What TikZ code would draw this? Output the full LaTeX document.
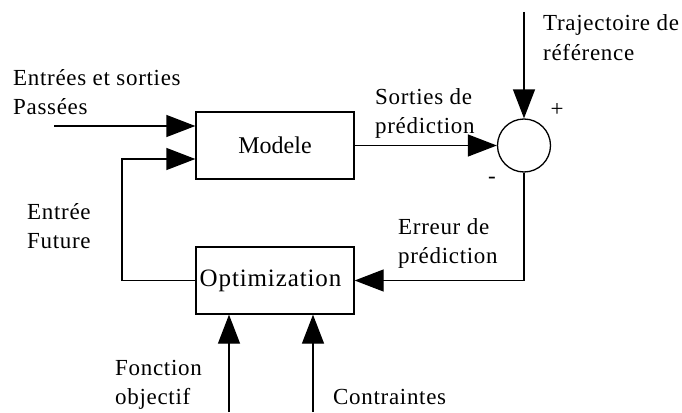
\documentclass[tikz,border=0pt]{standalone}
\usepackage{fontspec}
\setmainfont{Liberation Serif}
\usetikzlibrary{arrows.meta,calc}
\begin{document}
\begin{tikzpicture}[x=1pt,y=-1pt,
  blk/.style={draw,line width=1.3pt,minimum width=158pt,minimum height=67pt,inner sep=0pt},
  sumc/.style={draw,circle,line width=1.3pt,minimum size=53pt,inner sep=0pt},
  lbl/.style={anchor=base west,inner sep=0pt,align=left,font=\fontsize{23}{29}\selectfont\addfontfeatures{LetterSpace=3}},
  sgn/.style={inner sep=0pt,font=\fontsize{23}{29}\selectfont},
  ln/.style={line width=1.3pt},
  arr/.style={line width=1.3pt,-{Triangle[length=29pt,width=22pt]}}]
\useasboundingbox (0,0) rectangle (682,412);
\node[blk,font=\fontsize{24}{28}\selectfont] (modele) at (275,145.5) {Modele};
\node[blk,font=\fontsize{25}{28}\selectfont\addfontfeatures{LetterSpace=3.5}] (optim) at (275,280.5) {\hspace*{-9pt}Optimization};
\node[sumc] (sum) at (524,145.5) {};
\coordinate (in1) at (54,126);
\coordinate (fbtop) at (122,159);
\coordinate (ref) at (524,12);
\coordinate (fo) at (229,412);
\coordinate (co) at (313,412);
\draw[arr] (in1) -- (in1 -| modele.west);
\draw[arr] (optim.west) -| (fbtop) -- (fbtop -| modele.west);
\draw[arr] (modele.east) -- (sum.west);
\draw[arr] (ref) -- (sum.north);
\draw[arr] (sum.south) |- (optim.east);
\draw[arr] (fo) -- (fo |- optim.south);
\draw[arr] (co) -- (co |- optim.south);
\node[lbl] (l1) at (13,114) {Entrées et sorties\\Passées};
\node[lbl] (l2) at (543,60) {Trajectoire de\\référence};
\node[lbl] (l3) at (375,133) {Sorties de\\prédiction};
\node[lbl] (l4) at (398,263) {Erreur de\\prédiction};
\node[lbl] (l5) at (27,248) {Entrée\\Future};
\node[lbl] (l6) at (115,404) {Fonction\\objectif};
\node[lbl] (l7) at (333,404) {Contraintes};
\node[sgn] (plus) at (557,110) {+};
\node[sgn] (minus) at (492,180) {-};
\end{tikzpicture}
\end{document}
